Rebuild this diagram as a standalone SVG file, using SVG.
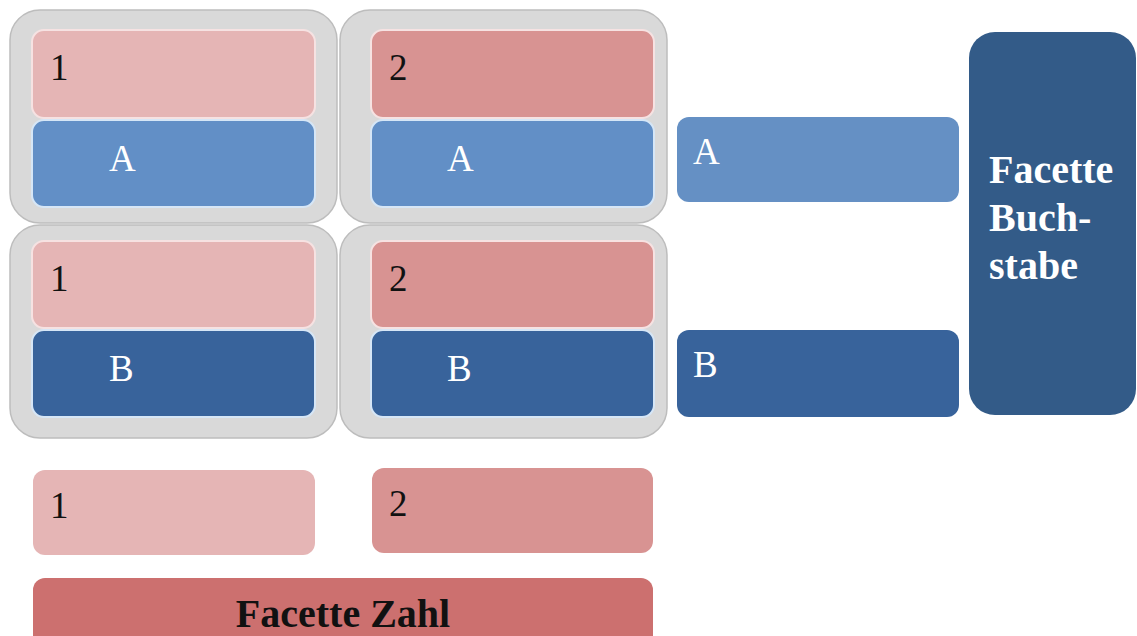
<svg xmlns="http://www.w3.org/2000/svg" width="1137" height="636" viewBox="0 0 1137 636">
  <style>
    .frame { fill: #d9d9d9; stroke: #bdbdbd; stroke-width: 1.5; }
    .p1 { fill: #e5b5b5; stroke: #f6e2e2; stroke-width: 2; }
    .p2 { fill: #d89392; stroke: #f6e2e2; stroke-width: 2; }
    .bA { fill: #628fc6; stroke: #d6e6f6; stroke-width: 2; }
    .bB { fill: #38639b; stroke: #d6e6f6; stroke-width: 2; }
    .plain { stroke: none; }
    .sA { fill: #6590c4; }
    .sB { fill: #38639b; }
    .facB { fill: #335b88; }
    .facZ { fill: #cc706f; }
    .t { font-family: "Liberation Serif", "Times New Roman", serif; font-size: 37px; }
    .dark { fill: #111111; }
    .light { fill: #ffffff; }
    .bold { font-weight: bold; font-size: 40px; }
  </style>

  <!-- background -->
  <rect width="1137" height="636" fill="#ffffff"/>

  <!-- combination cells: number + letter -->
  <g id="cell-1A">
    <rect class="frame" x="10" y="10" width="327" height="213" rx="30"/>
    <rect class="p1" x="32" y="30" width="283" height="88" rx="12"/>
    <text class="t dark" x="50" y="80">1</text>
    <rect class="bA" x="32" y="120" width="283" height="87" rx="12"/>
    <text class="t light" x="109" y="171">A</text>
  </g>
  <g id="cell-2A">
    <rect class="frame" x="340" y="10" width="327" height="213" rx="30"/>
    <rect class="p2" x="371" y="30" width="283" height="88" rx="12"/>
    <text class="t dark" x="389" y="80">2</text>
    <rect class="bA" x="371" y="120" width="283" height="87" rx="12"/>
    <text class="t light" x="447" y="171">A</text>
  </g>
  <g id="cell-1B">
    <rect class="frame" x="10" y="225" width="327" height="213" rx="30"/>
    <rect class="p1" x="32" y="241" width="283" height="87" rx="12"/>
    <text class="t dark" x="50" y="291">1</text>
    <rect class="bB" x="32" y="330" width="283" height="87" rx="12"/>
    <text class="t light" x="109" y="381">B</text>
  </g>
  <g id="cell-2B">
    <rect class="frame" x="340" y="225" width="327" height="213" rx="30"/>
    <rect class="p2" x="371" y="241" width="283" height="87" rx="12"/>
    <text class="t dark" x="389" y="291">2</text>
    <rect class="bB" x="371" y="330" width="283" height="87" rx="12"/>
    <text class="t light" x="447" y="381">B</text>
  </g>

  <!-- letter facet -->
  <g id="letter-A">
    <rect class="sA" x="677" y="117" width="282" height="85" rx="12"/>
    <text class="t light" x="693" y="164">A</text>
  </g>
  <g id="letter-B">
    <rect class="sB" x="677" y="330" width="282" height="87" rx="12"/>
    <text class="t light" x="693" y="377">B</text>
  </g>
  <g id="facet-letter">
    <rect class="facB" x="969" y="32" width="167" height="383" rx="26"/>
    <text class="t light bold" x="989" y="183">Facette</text>
    <text class="t light bold" x="989" y="231">Buch-</text>
    <text class="t light bold" x="989" y="279">stabe</text>
  </g>

  <!-- number facet -->
  <g id="number-1">
    <rect class="p1 plain" x="33" y="470" width="282" height="85" rx="12"/>
    <text class="t dark" x="50" y="518">1</text>
  </g>
  <g id="number-2">
    <rect class="p2 plain" x="372" y="468" width="281" height="85" rx="12"/>
    <text class="t dark" x="389" y="516">2</text>
  </g>
  <g id="facet-number">
    <rect class="facZ" x="33" y="578" width="620" height="70" rx="12"/>
    <text class="t dark bold" x="343" y="627" text-anchor="middle">Facette Zahl</text>
  </g>

  <!-- no connectors in this figure -->
  <g id="connectors"/>
</svg>
